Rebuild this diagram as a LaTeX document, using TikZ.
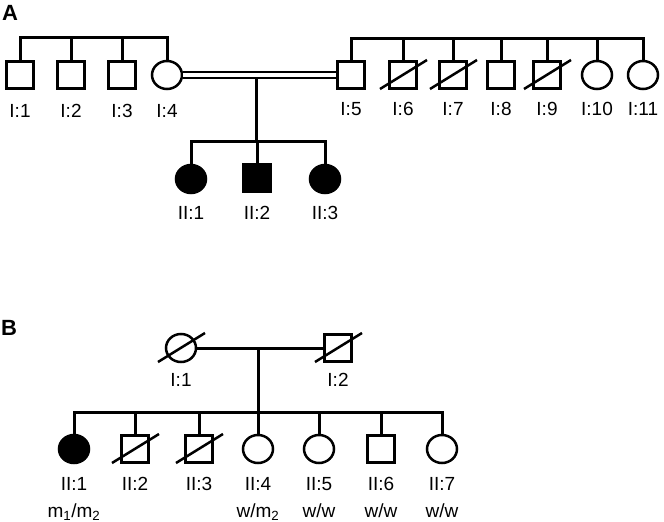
\documentclass[tikz,border=0pt]{standalone}
\usepackage{fontspec}
\setmainfont{Liberation Sans}
\usetikzlibrary{shapes.geometric}
\begin{document}
\begin{tikzpicture}[x=1pt,y=-1pt,
  ln/.style={line width=2.5pt, draw=black},
  conn/.style={line width=3pt, draw=black},
  male/.style={draw, ln, rectangle, minimum width=27pt, minimum height=27pt, inner sep=0pt},
  female/.style={draw, ln, ellipse, minimum width=30pt, minimum height=28pt, inner sep=0pt},
  aff/.style={fill=black},
  lab/.style={font=\fontsize{19}{22}\selectfont, anchor=base, inner sep=0pt},
  panel/.style={font=\fontsize{22}{25}\selectfont\bfseries, anchor=base, inner sep=0pt}]
\useasboundingbox (0,0) rectangle (664,522);
\newcommand{\deceased}[1]{\draw[ln] ([shift={(-23pt,-14pt)}]#1.center) -- ([shift={(24pt,15pt)}]#1.center);}

% ---------- Panel A ----------
\node[panel] (pA) at (10,20) {A};
\node[male] (a1) at (20,75) {};
\node[male] (a2) at (71,75) {};
\node[male] (a3) at (122,75) {};
\node[female] (a4) at (167,75) {};
\node[male] (a5) at (351,75) {};
\node[male] (a6) at (403,75) {};
\node[male] (a7) at (453,75) {};
\node[male] (a8) at (501,75) {};
\node[male] (a9) at (547,75) {};
\node[female] (a10) at (597,75) {};
\node[female] (a11) at (643,75) {};
\deceased{a6}\deceased{a7}\deceased{a9}

\coordinate (sL) at (0,37);
\coordinate (sR) at (0,38);
\draw[conn] (a1.north) |- (sL -| a4) -- (a4.north);
\foreach \n in {a2,a3} \draw[conn] (\n.north) -- (\n.north |- sL);
\draw[conn] (a5.north) |- (sR -| a11) -- (a11.north);
\foreach \n in {a6,a7,a8,a9,a10} \draw[conn] (\n.north) -- (\n.north |- sR);

\draw[line width=2.4pt, double distance=3.8pt] (a4.east) -- (a5.west);
\coordinate (mA) at (256,77);
\coordinate (cA) at (256,141);
\draw[conn] (mA) -- (cA);

\node[female, aff] (b1) at (191,179) {};
\node[male, aff] (b2) at (257,178) {};
\node[female, aff] (b3) at (325,179) {};
\draw[conn] (b1.north) |- (cA -| b3) -- (b3.north);
\draw[conn] (b2.north) -- (b2.north |- cA);

\foreach \n/\t/\x in {a1/I:1/20,a2/I:2/71,a3/I:3/122,a4/I:4/167}
  \node[lab] (l\n) at (\x,117) {\t};
\foreach \n/\t/\x in {a5/I:5/351,a6/I:6/403,a7/I:7/453,a8/I:8/501,a9/I:9/547,a10/I:10/597,a11/I:11/643}
  \node[lab] (l\n) at (\x,115) {\t};
\foreach \n/\t/\x in {b1/II:1/191,b2/II:2/257,b3/II:3/325}
  \node[lab] (l\n) at (\x,219) {\t};

% ---------- Panel B ----------
\node[panel] (pB) at (9,335) {B};
\node[female] (c1) at (181,348) {};
\node[male] (c2) at (338,348) {};
\deceased{c1}\deceased{c2}
\draw[conn] (c1.east) -- (c2.west);
\coordinate (mB) at (258,348);
\coordinate (cB) at (258,412);
\draw[conn] (mB) -- (cB);
\node[lab] (lc1) at (181,386) {I:1};
\node[lab] (lc2) at (338,386) {I:2};

\node[female, aff] (d1) at (74,449) {};
\node[male] (d2) at (135,449) {};
\node[male] (d3) at (199,449) {};
\node[female] (d4) at (258,449) {};
\node[female] (d5) at (319,449) {};
\node[male] (d6) at (381,449) {};
\node[female] (d7) at (442,449) {};
\deceased{d2}\deceased{d3}
\draw[conn] (d1.north) |- (cB -| d7) -- (d7.north);
\foreach \n in {d2,d3,d4,d5,d6} \draw[conn] (\n.north) -- (\n.north |- cB);

\foreach \n/\t/\x in {d1/II:1/74,d2/II:2/135,d3/II:3/199,d4/II:4/258,d5/II:5/319,d6/II:6/381,d7/II:7/442}
  \node[lab] (l\n) at (\x,490) {\t};
\node[lab] (gd1) at (74,517) {m\textsubscript{1}/m\textsubscript{2}};
\node[lab] (gd4) at (258,517) {w/m\textsubscript{2}};
\node[lab] (gd5) at (319,517) {w/w};
\node[lab] (gd6) at (381,517) {w/w};
\node[lab] (gd7) at (442,517) {w/w};
\end{tikzpicture}
\end{document}
